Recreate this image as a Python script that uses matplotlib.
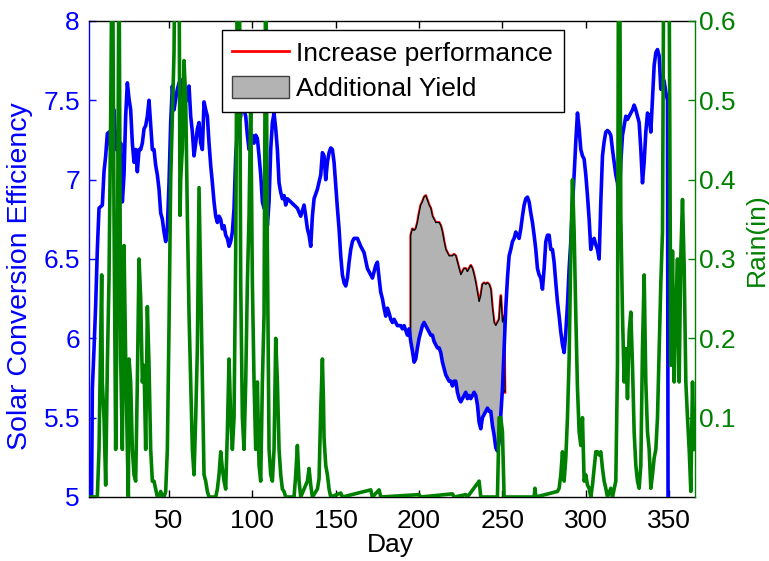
import matplotlib
matplotlib.use('Agg')
import matplotlib.pyplot as plt
from matplotlib.patches import Patch
from matplotlib.lines import Line2D

plt.rcParams['font.family'] = ['Liberation Sans', 'DejaVu Sans']

# ---- Solar conversion efficiency (left axis), (day, value) ----
eff_points = [
    (2, 4.0), (3, 4.2), (4, 5.68), (5, 5.93), (6, 6.21), (7, 6.56), (8, 6.82), (10, 6.84),
    (11, 7.05), (12, 7.15), (13, 7.29), (14, 7.30), (15, 7.19), (16, 7.34), (17, 7.44),
    (18, 7.19), (19, 7.30), (20, 7.05), (21, 7.23), (22, 6.86), (23, 7.03), (24, 7.40),
    (25, 7.61), (26, 7.51), (27, 7.44), (28, 7.23), (29, 7.11), (30, 7.19), (31, 7.05),
    (32, 7.19), (33, 7.19), (34, 7.23), (35, 7.32), (36, 7.34), (37, 7.40), (38, 7.50),
    (39, 7.34), (40, 7.19), (41, 7.19), (42, 7.09), (43, 7.03), (44, 6.94), (45, 6.79),
    (46, 6.75), (47, 6.67), (48, 6.61), (49, 6.69), (50, 6.98), (51, 7.36), (52, 7.59),
    (53, 7.44), (54, 7.51), (55, 7.57), (56, 7.61), (57, 7.63), (58, 7.51), (59, 7.65),
    (60, 7.49), (61, 7.53), (62, 7.59), (63, 7.40), (64, 7.30), (65, 7.15), (66, 7.23),
    (67, 7.32), (68, 7.36), (69, 7.23), (70, 7.19), (71, 7.49), (72, 7.44), (73, 7.40),
    (74, 7.23), (75, 7.09), (76, 6.98), (77, 6.86), (78, 6.77), (79, 6.73), (80, 6.77),
    (81, 6.75), (82, 6.69), (83, 6.71), (84, 6.65), (85, 6.63), (86, 6.58), (87, 6.61),
    (88, 6.67), (89, 6.82), (90, 7.15), (91, 7.30), (92, 7.36), (93, 7.40), (94, 7.53),
    (95, 7.44), (96, 7.40), (97, 7.28), (98, 7.19), (99, 7.23), (100, 7.28), (101, 7.23),
    (102, 7.28), (103, 7.26), (104, 7.15), (105, 7.03), (106, 6.86), (107, 6.82), (108, 6.98),
    (109, 6.71), (110, 6.86), (111, 7.19), (112, 7.36), (113, 7.42), (114, 7.32), (115, 7.19),
    (116, 6.98), (117, 6.92), (118, 6.88), (119, 6.90), (120, 6.84), (121, 6.88), (123, 6.86),
    (125, 6.84), (127, 6.82), (129, 6.77), (131, 6.84), (132, 6.77), (133, 6.69), (134, 6.65),
    (135, 6.58), (136, 6.77), (137, 6.88), (139, 6.94), (141, 7.03), (142, 7.17), (143, 7.15),
    (144, 7.00), (145, 7.11), (146, 7.17), (147, 7.20), (148, 7.19), (149, 7.11), (150, 6.96),
    (151, 6.82), (152, 6.69), (153, 6.52), (154, 6.40), (155, 6.35), (156, 6.33), (157, 6.38),
    (158, 6.48), (159, 6.56), (160, 6.61), (161, 6.63), (163, 6.63), (165, 6.58), (167, 6.54),
    (169, 6.44), (171, 6.40), (172, 6.38), (173, 6.42), (174, 6.46), (175, 6.48), (176, 6.38),
    (177, 6.29), (178, 6.25), (179, 6.19), (180, 6.14), (181, 6.19), (182, 6.16), (183, 6.12),
    (184, 6.10), (185, 6.12), (186, 6.10), (187, 6.08), (189, 6.08), (190, 6.06), (191, 6.08),
    (192, 6.05), (193, 6.02), (194, 6.06), (195, 5.98), (196, 5.92), (197, 5.85), (198, 5.87),
    (199, 5.94), (200, 6.00), (201, 6.04), (202, 6.08), (203, 6.10), (204, 6.08), (205, 6.06),
    (206, 6.04), (207, 6.02), (208, 6.02), (209, 5.98), (210, 5.96), (211, 5.94), (212, 5.94),
    (213, 5.91), (214, 5.85), (215, 5.81), (216, 5.77), (217, 5.75), (218, 5.73), (219, 5.73),
    (220, 5.70), (221, 5.73), (222, 5.73), (223, 5.66), (224, 5.62), (225, 5.60), (226, 5.62),
    (227, 5.64), (228, 5.66), (229, 5.62), (230, 5.64), (231, 5.62), (232, 5.64), (233, 5.66),
    (234, 5.64), (235, 5.58), (236, 5.47), (237, 5.43), (238, 5.50), (239, 5.52), (240, 5.54),
    (241, 5.56), (242, 5.54), (243, 5.54), (244, 5.45), (245, 5.39), (246, 5.31), (247, 5.29),
    (248, 5.35), (249, 5.52), (250, 5.68), (251, 5.94), (252, 6.19), (253, 6.38), (254, 6.52),
    (255, 6.56), (256, 6.61), (257, 6.63), (258, 6.67), (259, 6.65), (260, 6.63), (261, 6.69),
    (262, 6.77), (263, 6.84), (264, 6.88), (265, 6.89), (266, 6.86), (267, 6.79), (268, 6.73),
    (269, 6.65), (270, 6.56), (271, 6.44), (272, 6.40), (273, 6.38), (274, 6.31), (275, 6.44),
    (276, 6.61), (277, 6.65), (278, 6.65), (279, 6.56), (280, 6.56), (281, 6.48), (282, 6.35),
    (283, 6.23), (284, 6.14), (285, 6.04), (286, 5.96), (287, 5.91), (288, 6.04), (289, 6.21),
    (290, 6.44), (291, 6.61), (292, 6.84), (293, 7.03), (294, 7.24), (295, 7.42), (296, 7.32),
    (297, 7.19), (298, 7.15), (299, 7.13), (300, 7.03), (301, 6.90), (302, 6.75), (303, 6.56),
    (304, 6.61), (305, 6.63), (306, 6.59), (307, 6.56), (308, 6.50), (309, 6.86), (310, 7.15),
    (311, 7.24), (312, 7.30), (313, 7.31), (314, 7.30), (315, 7.28), (316, 7.19), (317, 7.11),
    (318, 7.03), (319, 6.98), (320, 6.83), (321, 7.11), (322, 7.28), (323, 7.34), (324, 7.40),
    (325, 7.38), (326, 7.40), (327, 7.42), (328, 7.44), (329, 7.47), (330, 7.44), (331, 7.40),
    (332, 7.36), (333, 7.19), (334, 6.98), (335, 7.11), (336, 7.30), (337, 7.42), (338, 7.40),
    (339, 7.30), (340, 7.51), (341, 7.72), (342, 7.80), (343, 7.82), (344, 7.78), (345, 7.57),
    (346, 7.65), (347, 7.62), (348, 7.55), (349, 7.50), (350, 0.0), (365, 0.0),
]

# ---- Increased performance (red line), (day, value) ----
perf_points = [
    (195, 5.98), (195, 6.65), (196, 6.69), (197, 6.68), (198, 6.69), (199, 6.73), (200, 6.79),
    (201, 6.84), (202, 6.86), (203, 6.89), (204, 6.90), (205, 6.87), (206, 6.84), (207, 6.82),
    (208, 6.77), (209, 6.75), (210, 6.73), (211, 6.73), (212, 6.73), (213, 6.71), (214, 6.67),
    (215, 6.61), (216, 6.56), (217, 6.54), (218, 6.52), (219, 6.52), (220, 6.52), (221, 6.53),
    (222, 6.52), (223, 6.48), (224, 6.44), (225, 6.40), (226, 6.42), (227, 6.44), (228, 6.44),
    (229, 6.42), (230, 6.44), (231, 6.46), (232, 6.44), (233, 6.40), (234, 6.35), (235, 6.29),
    (236, 6.23), (237, 6.27), (238, 6.34), (239, 6.35), (240, 6.34), (241, 6.35), (242, 6.34),
    (243, 6.31), (244, 6.19), (245, 6.10), (246, 6.08), (247, 6.10), (248, 6.12), (249, 6.27),
    (250, 6.10), (251, 6.14), (251.5, 5.66),
]

# ---- Rain (right axis), (day, inches) ----
rain_points = [
    (2, 0), (7, 0), (8, 0.06), (9.6, 0.28), (10, 0.145), (11, 0.10), (12, 0.015), (13, 0.166),
    (14, 0.275), (15, 0.48), (16, 0.75), (17, 0.355), (18, 0.06), (19, 0.27), (20, 0.70),
    (20.6, 0.39), (21, 0.174), (22, 0.06), (23, 0.317), (24, 0.174), (25, 0.06), (25.6, 0.0),
    (26, 0.174), (27, 0.145), (28, 0.06), (29, 0.028), (30, 0.02), (31, 0.145), (32, 0.30),
    (33, 0.25), (34, 0.145), (35, 0.166), (36, 0.06), (37, 0.24), (38, 0.166), (39, 0.06),
    (40, 0.02), (41, 0.02), (42, 0.01), (43, 0), (44, 0), (45, 0.007), (46, 0), (47, 0),
    (48, 0.007), (49, 0.06), (50, 0.216), (51, 0.40), (52, 0.48), (53, 0.56), (54, 0.8),
    (55, 0.9), (56, 0.7), (56.6, 0.355), (57, 0.40), (58, 0.44), (59, 0.55), (60, 0.50),
    (61, 0.355), (62, 0.23), (63, 0.145), (64, 0.06), (65, 0.028), (66, 0.10), (67, 0.187),
    (68, 0.39), (69, 0.27), (70, 0.145), (71, 0.028), (72, 0.02), (73, 0.007), (74, 0), (78, 0),
    (79, 0.01), (80, 0.028), (81, 0.057), (82, 0.036), (83, 0.02), (84, 0.01), (85, 0.082),
    (86, 0.174), (87, 0.10), (88, 0.06), (89, 0.10), (90, 0.31), (91, 0.7), (92, 0.8),
    (93, 0.27), (94, 0.10), (95, 0.06), (96, 0.145), (97, 0.27), (98, 0.355), (99, 0.50),
    (100, 0.27), (101, 0.145), (102, 0.06), (103, 0.145), (104, 0.04), (105, 0.02),
    (106, 0.145), (107, 0.23), (108, 0.7), (109, 0.31), (110, 0.06), (111, 0.028), (112, 0.02),
    (113, 0.06), (114, 0.20), (115, 0.145), (116, 0.06), (117, 0.028), (118, 0.01),
    (119, 0.007), (120, 0), (125, 0), (126, 0.028), (127, 0.065), (128, 0.02), (129, 0),
    (133, 0.02), (134, 0.036), (135, 0.015), (136, 0), (139, 0.01), (140, 0.023), (141, 0.11),
    (142, 0.174), (142.6, 0.124), (143, 0.074), (144, 0.04), (145, 0.028), (146, 0.01),
    (147, 0), (153, 0.005), (154, 0), (171, 0.009), (172, 0), (176, 0.009), (177, 0),
    (200, 0.003), (201, 0), (220, 0.004), (221, 0), (228, 0.003), (229, 0), (235, 0.017),
    (236, 0.02), (237, 0), (247, 0), (248, 0.10), (249, 0.10), (250, 0.082), (251, 0),
    (269, 0), (269.5, 0.011), (270, 0), (283, 0.007), (284, 0.011), (285, 0.028), (286, 0.057),
    (287, 0.02), (288, 0.049), (289, 0.10), (290, 0.174), (291, 0.31), (292, 0.40),
    (293, 0.334), (294, 0.229), (295, 0.137), (296, 0.082), (297, 0.065), (298, 0.10),
    (299, 0.02), (300, 0.028), (301, 0.015), (302, 0.011), (303, 0), (304, 0.015), (305, 0.036),
    (306, 0.057), (307, 0.057), (308, 0.053), (309, 0.057), (310, 0.036), (311, 0.02),
    (312, 0.011), (313, 0), (315, 0.011), (316, 0), (318, 0.02), (319, 0.166), (319.6, 0.7),
    (320.4, 0.65), (321, 0.355), (322, 0.23), (323, 0.145), (324, 0.187), (325, 0.124),
    (326, 0.208), (327, 0.233), (328, 0.166), (329, 0.082), (330, 0.04), (331, 0.02),
    (332, 0.011), (333, 0.04), (334, 0.187), (335, 0.28), (336, 0.145), (337, 0.082),
    (338, 0.06), (339, 0.011), (340, 0.028), (341, 0.049), (342, 0.06), (343, 0.10),
    (344, 0.187), (345, 0.27), (346, 0.334), (347, 0.8), (348, 0.9), (349, 0.7), (350, 0.65),
    (351, 0.166), (352, 0.31), (353, 0.145), (354, 0.229), (355, 0.30), (356, 0.145),
    (357, 0.304), (358, 0.375), (359, 0.29), (360, 0.145), (361, 0.10), (362, 0.06),
    (363, 0.007), (364, 0.145), (365, 0.06),
]

eff_ticks = [5, 5.5, 6, 6.5, 7, 7.5, 8]
eff_ticklabels = ['5', '5.5', '6', '6.5', '7', '7.5', '8']
rain_ticks = [0.1, 0.2, 0.3, 0.4, 0.5, 0.6]
rain_ticklabels = ['0.1', '0.2', '0.3', '0.4', '0.5', '0.6']
day_ticks = [50, 100, 150, 200, 250, 300, 350]

eff_days = [p[0] for p in eff_points]
eff_vals = [p[1] for p in eff_points]
perf_days = [p[0] for p in perf_points]
perf_vals = [p[1] for p in perf_points]
rain_days = [p[0] for p in rain_points]
rain_vals = [p[1] for p in rain_points]

BLUE = '#0000ff'
GREEN = '#008000'
GRAY = '#b3b3b3'
FS = 19

fig = plt.figure(figsize=(7.69, 5.61), dpi=100)
ax1 = fig.add_axes([89 / 769, 1 - 497 / 561, 606 / 769, 476 / 561])

ax1.plot(eff_days, eff_vals, color=BLUE, lw=2.6, zorder=4)
ax1.plot(perf_days, perf_vals, color='red', lw=2.0, zorder=2.5)

# polygon between the red line and the blue line
blue_seg = [(d, v) for d, v in eff_points if 195 <= d <= 250]
poly_x = perf_days + [d for d, v in reversed(blue_seg)]
poly_y = perf_vals + [v for d, v in reversed(blue_seg)]
ax1.fill(poly_x, poly_y, facecolor=GRAY, edgecolor='k', lw=0.9, zorder=3)

ax1.set_xlim(2, 365.5)
ax1.set_ylim(5, 8)
ax1.set_yticks(eff_ticks)
ax1.set_yticklabels(eff_ticklabels)
ax1.set_xticks(day_ticks)
ax1.tick_params(axis='y', colors=BLUE, direction='in', length=5, labelsize=FS, pad=6.5,
                right=False, width=1)
ax1.tick_params(axis='x', colors='k', direction='in', length=5, labelsize=FS, pad=9,
                top=True, width=1)
ax1.spines['left'].set_color(BLUE)
ax1.spines['right'].set_visible(False)
for s in ['left', 'top', 'bottom']:
    ax1.spines[s].set_linewidth(1.0)
ax1.set_xlabel('Day', fontsize=FS)
ax1.xaxis.set_label_coords(0.497, -0.075)
ax1.set_ylabel('Solar Conversion Efficiency', fontsize=20.5, color=BLUE)
ax1.yaxis.set_label_coords(-0.092, 0.464)

ax2 = ax1.twinx()
ax2.plot(rain_days, rain_vals, color=GREEN, lw=2.6)
ax2.set_ylim(0, 0.6)
ax2.set_yticks(rain_ticks)
ax2.set_yticklabels(rain_ticklabels)
ax2.tick_params(axis='y', colors=GREEN, direction='in', length=5, labelsize=FS, pad=3, width=1)
for s in ['left', 'top', 'bottom']:
    ax2.spines[s].set_visible(False)
ax2.spines['right'].set_color(GREEN)
ax2.spines['right'].set_linewidth(1.0)
ax2.set_ylabel('Rain(in)', fontsize=FS, color=GREEN)
ax2.yaxis.set_label_coords(1.0825, 0.54)

handles = [Line2D([], [], color='red', lw=2.0),
           Patch(facecolor=GRAY, edgecolor='0.25', lw=1.0)]
leg = ax2.legend(handles, ['Increase performance', 'Additional Yield'],
                 loc='upper center', bbox_to_anchor=(0.501, 0.981), borderaxespad=0,
                 fontsize=FS, handlelength=2.16, handletextpad=0.27, labelspacing=0.36,
                 handleheight=0.95, borderpad=0.4, fancybox=False, framealpha=1,
                 edgecolor='k')
leg.get_frame().set_linewidth(1.0)

fig.savefig('out.png', dpi=100)
